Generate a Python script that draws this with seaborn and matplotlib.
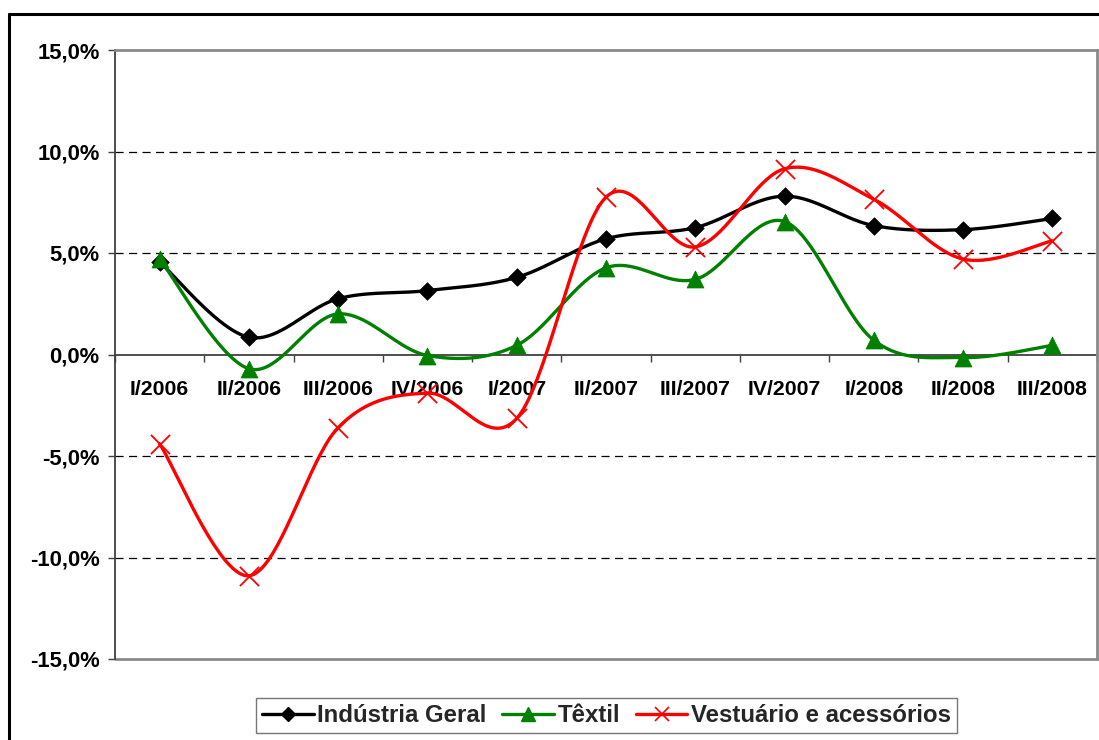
import numpy as np
import pandas as pd
import matplotlib
matplotlib.use("Agg")
import matplotlib.pyplot as plt
from matplotlib.lines import Line2D
import seaborn as sns

# ---------------- data ----------------
quarters = ["I/2006", "II/2006", "III/2006", "IV/2006", "I/2007", "II/2007",
            "III/2007", "IV/2007", "I/2008", "II/2008", "III/2008"]
industria_geral = [4.55, 0.85, 2.75, 3.15, 3.8, 5.7, 6.25, 7.8, 6.35, 6.15, 6.7]
textil = [4.7, -0.7, 2.0, -0.05, 0.45, 4.27, 3.7, 6.55, 0.7, -0.15, 0.45]
vestuario = [-4.4, -10.9, -3.6, -1.9, -3.15, 7.75, 5.3, 9.15, 7.65, 4.7, 5.6]
series_names = ["Indústria Geral", "Têxtil", "Vestuário e acessórios"]
y_ticks = [-15, -10, -5, 0, 5, 10, 15]
y_tick_labels = ["-15,0%", "-10,0%", "-5,0%", "0,0%", "5,0%", "10,0%", "15,0%"]

colors = ["#000000", "#008000", "#FF0000"]
markers = ["D", "^", "x"]
marker_sizes = [80, 150, 190]


def smooth_curve(xs, ys, n=40):
    """Excel-like smoothed line (Catmull-Rom as cubic Bezier)."""
    P = np.column_stack([xs, ys]).astype(float)
    ext = np.vstack([P[0], P, P[-1]])
    out = []
    for i in range(len(P) - 1):
        p0, p1, p2, p3 = ext[i], ext[i + 1], ext[i + 2], ext[i + 3]
        c1 = p1 + (p2 - p0) / 6.0
        c2 = p2 - (p3 - p1) / 6.0
        t = np.linspace(0, 1, n, endpoint=(i == len(P) - 2))[:, None]
        pts = ((1 - t) ** 3) * p1 + 3 * ((1 - t) ** 2) * t * c1 + 3 * (1 - t) * t ** 2 * c2 + t ** 3 * p2
        out.append(pts)
    out = np.vstack(out)
    return out[:, 0], out[:, 1]


xpos = np.arange(len(quarters))
all_series = [industria_geral, textil, vestuario]

smooth_rows = []
point_rows = []
for name, vals in zip(series_names, all_series):
    sx, sy = smooth_curve(xpos, vals)
    smooth_rows.append(pd.DataFrame({"x": sx, "y": sy, "serie": name, "order": np.arange(len(sx))}))
    point_rows.append(pd.DataFrame({"x": xpos, "y": vals, "serie": name}))
smooth_df = pd.concat(smooth_rows, ignore_index=True)
point_df = pd.concat(point_rows, ignore_index=True)

# ---------------- style ----------------
sns.set_theme(style="white")
plt.rcParams["font.family"] = ["Liberation Sans", "DejaVu Sans"]

W, H = 1099, 740
fig = plt.figure(figsize=(W / 100, H / 100), dpi=100)
fig.patch.set_facecolor("white")

left, right, top, bottom = 115, 1097, 50, 659
ax = fig.add_axes([left / W, 1 - bottom / H, (right - left) / W, (bottom - top) / H])
ax.set_facecolor("white")

# outer chart frame (thick black, partially cut off)
fig.add_artist(Line2D([8.7 / W, 1.0], [1 - 13.5 / H, 1 - 13.5 / H], transform=fig.transFigure,
                      color="black", lw=2.2))
fig.add_artist(Line2D([8.7 / W, 8.7 / W], [0, 1 - 13.5 / H], transform=fig.transFigure,
                      color="black", lw=2.2))

# gridlines
for v in [-10, -5, 5, 10]:
    ax.axhline(v, color="black", lw=0.9, dashes=(6.5, 4.3), zorder=1)
ax.axhline(-15, color="#8a8a8a", lw=2.0, zorder=1, clip_on=False)

# smooth lines
for name, c in zip(series_names, colors):
    sub = smooth_df[smooth_df["serie"] == name]
    sns.lineplot(data=sub, x="x", y="y", sort=False, estimator=None, color=c, lw=2.4,
                 ax=ax, legend=False, zorder=3)

# markers
for name, c, m, s in zip(series_names, colors, markers, marker_sizes):
    sub = point_df[point_df["serie"] == name]
    if m == "x":
        sns.scatterplot(data=sub, x="x", y="y", marker=m, s=s, color=c, linewidth=1.3,
                        ax=ax, legend=False, zorder=4)
    else:
        sns.scatterplot(data=sub, x="x", y="y", marker=m, s=s, color=c, edgecolor=c, linewidth=0.5,
                        ax=ax, legend=False, zorder=4)

ax.set_xlim(-0.5, len(quarters) - 0.5)
ax.set_ylim(-15, 15)
ax.set_xlabel("")
ax.set_ylabel("")

# y axis
ax.set_yticks(y_ticks)
ax.set_yticklabels(y_tick_labels, fontsize=15.8, fontweight="bold", color="black")
ax.tick_params(axis="y", direction="out", length=5, width=1, color="#404040", pad=6, left=True)

# x axis at zero
ax.spines["bottom"].set_position(("data", 0))
ax.spines["bottom"].set_color("#404040")
ax.spines["bottom"].set_linewidth(1.3)
ax.spines["bottom"].set_zorder(2)
ax.spines["left"].set_color("#404040")
ax.spines["left"].set_linewidth(1.3)
for sp in ["top", "right"]:
    ax.spines[sp].set_color("#8a8a8a")
    ax.spines[sp].set_linewidth(2.0)

ax.set_xticks(np.arange(-0.5, len(quarters), 1.0))
ax.set_xticklabels([])
ax.tick_params(axis="x", which="major", direction="out", length=5, width=1, color="#404040", bottom=True)
ax.set_xticks(xpos, minor=True)
ax.set_xticklabels(quarters, minor=True, fontsize=15.3, fontweight="bold", color="black")
ax.tick_params(axis="x", which="minor", length=0, pad=18.5, bottom=True)

# legend
handles = [
    Line2D([], [], color=colors[0], lw=2.4, marker="D", markersize=7.5),
    Line2D([], [], color=colors[1], lw=2.4, marker="^", markersize=10),
    Line2D([], [], color=colors[2], lw=2.4, marker="x", markersize=10, markeredgewidth=1.2),
]
leg = fig.legend(handles, series_names, ncol=3, loc="upper left",
                 bbox_to_anchor=(256 / W, 1 - 698 / H), frameon=True, fancybox=False,
                 prop={"family": ["Liberation Sans"], "weight": "bold", "size": 17.3},
                 handlelength=2.15, handletextpad=0.15, columnspacing=0.65, borderpad=0.25,
                 borderaxespad=0)
leg.get_frame().set_edgecolor("#555555")
leg.get_frame().set_linewidth(1.0)

fig.savefig("out.png", dpi=100, facecolor="white")
